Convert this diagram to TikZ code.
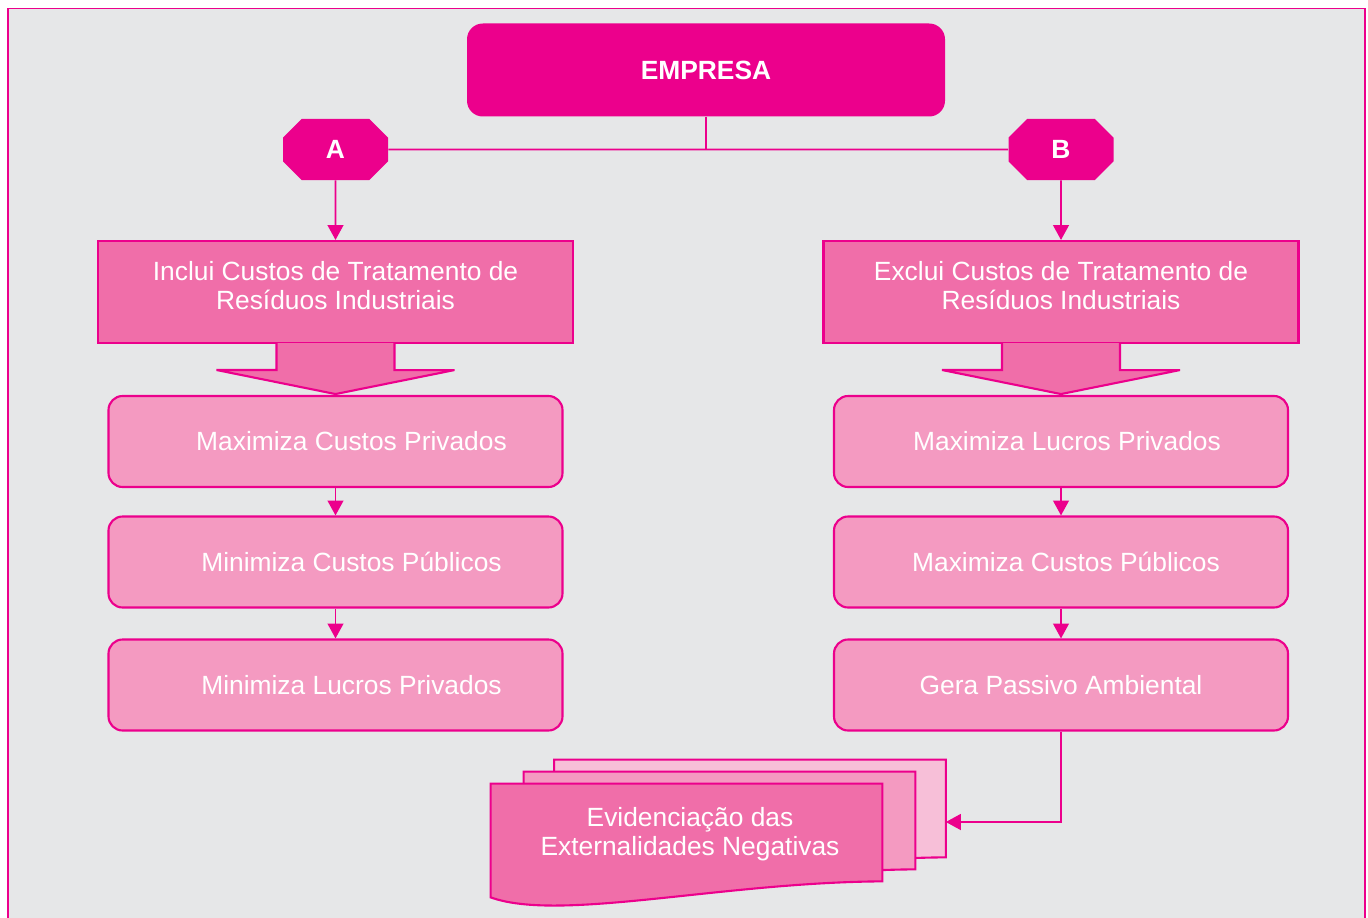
\documentclass[tikz,border=0pt]{standalone}
\usepackage{fontspec}
\setmainfont{Liberation Sans}
\usetikzlibrary{arrows.meta,shapes.misc}

\definecolor{rosa}{HTML}{EC008C}
\definecolor{rosamedio}{HTML}{F06EA9}
\definecolor{rosaclaro}{HTML}{F49AC1}
\definecolor{rosapalido}{HTML}{F7BFD8}
\definecolor{fundo}{HTML}{E6E7E8}

% seta larga por baixo de uma caixa
\newcommand{\seta}[1]{%
  \filldraw[draw=rosa, fill=rosamedio, line width=1.2pt, line join=miter]
    ([xshift=-1.18cm,yshift=0.6pt]#1.south) -- ++(0,-0.54) -- ++(-1.2,0)
    -- ([yshift=-1cm]#1.south) -- ++(2.38,0.48) -- ++(-1.2,0) -- ++(0,0.54);}

% folha com o fundo ondulado
\newcommand{\folha}[2]{%
  \filldraw[draw=rosa, fill=#2, line width=1.2pt, line join=miter]
    (#1.north west) -- (#1.north east) -- (#1.south east)
    .. controls +(-3.24cm,-0.02cm) and +(1.38cm,-0.5cm) .. ([yshift=-0.32cm]#1.south west) -- cycle;}

\begin{document}
\begin{tikzpicture}[
  txt/.style={text=white, font=\fontsize{15}{16.5}\selectfont, align=center},
  negrito/.style={font=\fontsize{15}{16.5}\selectfont\bfseries},
  caixa/.style={txt, draw=rosa, line width=1.2pt, fill=rosamedio, minimum width=9.5cm, minimum height=2.04cm, text depth=7pt},
  etapa/.style={txt, draw=rosa, line width=1.2pt, fill=rosaclaro, rounded corners=8pt, minimum width=9.08cm, minimum height=1.82cm},
  opcao/.style={txt, negrito, chamfered rectangle, chamfered rectangle xsep=0.42cm, chamfered rectangle ysep=0.36cm, fill=rosa, minimum width=2.1cm, minimum height=1.22cm, inner sep=0pt},
  papel/.style={minimum width=7.82cm, minimum height=1.94cm, inner sep=0pt},
  fluxo/.style={draw=rosa, line width=1.1pt, -{Triangle[length=8.5pt,width=9pt]}},
  liga/.style={draw=rosa, line width=1.1pt}]

\useasboundingbox (0,0) rectangle (27.36,-18.36);
\fill[white] (0,0) rectangle (27.36,-18.36);
\begin{scope}
\clip (0,0) rectangle (27.36,-18.36);
\draw[rosa, line width=1.1pt, fill=fundo] (0.16,-0.17) rectangle (27.30,-19);
\end{scope}

% Empresa
\node[txt, negrito, fill=rosa, rounded corners=9pt, minimum width=9.56cm, minimum height=1.86cm] (emp) at (14.12,-1.40) {EMPRESA};
\node[opcao] (A) at (6.71,-2.99) {A};
\node[opcao] (B) at (21.22,-2.99) {B};
\draw[liga] (emp.south) -- (emp.south |- A.east);
\draw[liga] (A) -- (B);

% Lado A
\node[caixa] (inc) at (6.71,-5.84) {Inclui Custos de Tratamento de\\Resíduos Industriais};
\seta{inc}
\node[etapa] (maxcp) at (6.71,-8.83) {\hspace*{0.64cm}Maximiza Custos Privados};
\node[etapa] (mincpub) at (6.71,-11.24) {\hspace*{0.64cm}Minimiza Custos Públicos};
\node[etapa] (minlp) at (6.71,-13.70) {\hspace*{0.64cm}Minimiza Lucros Privados};

\draw[fluxo] (A) -- (inc);
\draw[fluxo] (maxcp) -- (mincpub);
\draw[fluxo] (mincpub) -- (minlp);

% Lado B
\node[caixa] (exc) at (21.22,-5.84) {Exclui Custos de Tratamento de\\Resíduos Industriais};
\seta{exc}
\node[etapa] (maxlp) at (21.22,-8.83) {\hspace*{0.24cm}Maximiza Lucros Privados};
\node[etapa] (maxcpub) at (21.22,-11.24) {\hspace*{0.2cm}Maximiza Custos Públicos};
\node[etapa] (gera) at (21.22,-13.70) {Gera Passivo Ambiental};

\draw[fluxo] (B) -- (exc);
\draw[fluxo] (maxlp) -- (maxcpub);
\draw[fluxo] (maxcpub) -- (gera);

% Evidenciacao
\node[papel] (evb) at (15.0,-16.17) {};
\folha{evb}{rosapalido}
\node[papel] (evm) at (14.39,-16.41) {};
\folha{evm}{rosaclaro}
\node[papel] (evf) at (13.73,-16.65) {};
\folha{evf}{rosamedio}
\node[txt] (evtxt) at ([xshift=0.07cm,yshift=-0.04cm]evf.center) {Evidenciação das\\Externalidades Negativas};

\draw[fluxo] (gera.south) |- ([yshift=-0.27cm]evb.east);
\end{tikzpicture}
\end{document}
